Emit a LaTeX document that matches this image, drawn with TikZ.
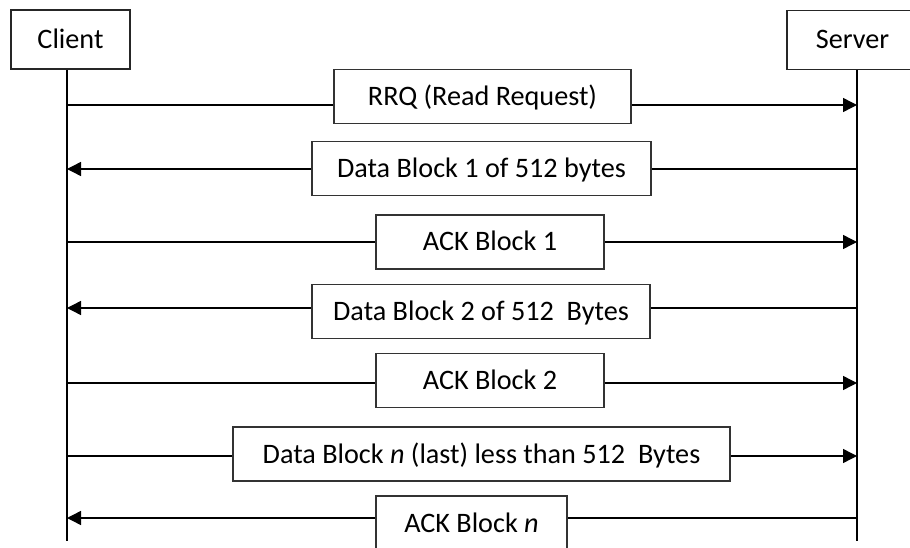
\documentclass[tikz,border=0pt]{standalone}
\usepackage{fontspec}
\setmainfont{Carlito}
\usetikzlibrary{arrows.meta}

\begin{document}
\begin{tikzpicture}[
    x=1pt,y=-1pt,
    font=\fontsize{28.2}{34}\selectfont,
    >={Triangle[length=14pt,width=14pt]},
    actor/.style={draw=black!85,line width=1.4pt,minimum height=59pt,
                  inner sep=0pt,text height=18pt,text depth=0pt},
    msgbox/.style={draw=black!80,fill=white,line width=1.4pt,minimum height=54pt,
                   inner sep=0pt,text height=18pt,text depth=0pt},
    life/.style={line width=1.4pt},
    msg/.style={->,line width=1.4pt},
]
\clip (0,0) rectangle (910,548);

% =====================================================================
%  Actors and lifelines
% =====================================================================
\node[actor,minimum width=119pt] (client) at (70.5,39.5) {Client};
\node[actor,minimum width=131pt] (server) at (852.5,40) {Server};

\coordinate (cEnd) at (67,541);
\coordinate (sEnd) at (857,541);
\draw[life] (client.south -| cEnd) -- (cEnd);
\draw[life] (server.south -| sEnd) -- (sEnd);

% =====================================================================
%  Messages (drawn first, the label boxes cover them)
% =====================================================================
\foreach \i/\y in {1/105,2/169,3/242,4/308,5/383,6/456,7/518}{
   \coordinate (c\i) at (67,\y);
   \coordinate (s\i) at (857,\y);
}
\foreach \a/\b in {c1/s1,s2/c2,c3/s3,s4/c4,c5/s5,c6/s6,s7/c7}
   \draw[msg] (\a) -- (\b);

% label boxes
\node[msgbox,minimum width=297pt] (rrq)   at (482.5,96.5) {RRQ (Read Request)};
\node[msgbox,minimum width=339pt] (data1) at (481.5,168.5) {Data Block 1 of 512 bytes};
\node[msgbox,minimum width=228pt] (ack1)  at (490,242) {ACK Block 1};
\node[msgbox,minimum width=338pt] (data2) at (481,311.5) {Data Block 2 of 512~\ Bytes};
\node[msgbox,minimum width=228pt] (ack2)  at (490,380.5) {ACK Block 2};
\node[msgbox,minimum width=497pt] (datan) at (481.5,454)
     {Data Block \textit{n} (last) less than 512~\ Bytes};
\node[msgbox,minimum width=191pt] (ackn)  at (471.5,523) {ACK Block \textit{n}};

\end{tikzpicture}
\end{document}
